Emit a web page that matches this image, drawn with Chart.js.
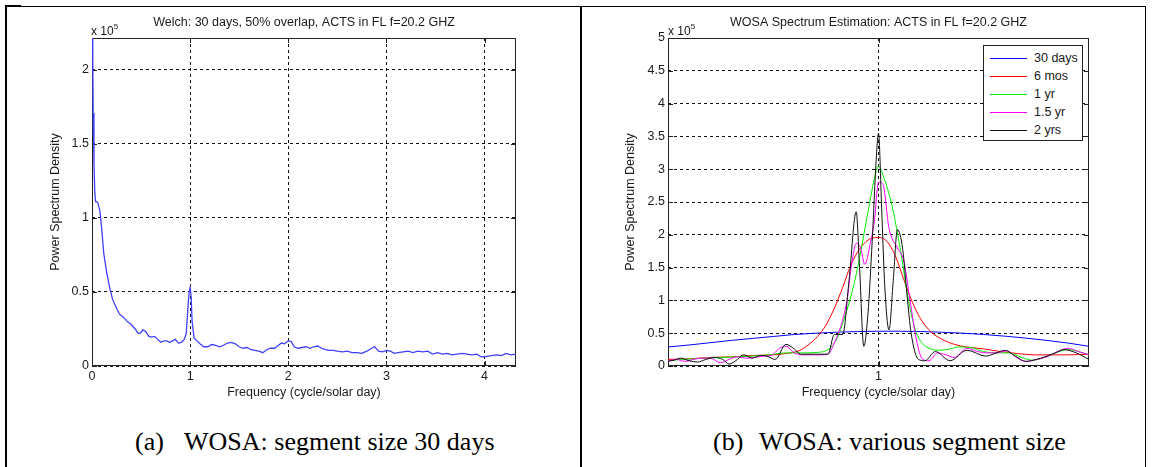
<!DOCTYPE html>
<html>
<head>
<meta charset="utf-8">
<script src="https://cdn.jsdelivr.net/npm/chart.js@4.4.1/dist/chart.umd.min.js"></script>
<style>
  html, body { margin: 0; padding: 0; background: #fff; }
  body { width: 1152px; height: 467px; position: relative; overflow: hidden;
         font-family: "Liberation Sans", Arial, sans-serif; color: #1a1a1a; }
  canvas { position: absolute; top: 0; }
  .rule { position: absolute; background: #000; z-index: 3; }
  .mult { position: absolute; top: 20px; font-size: 12px; line-height: 14px; }
  .mult sup { font-size: 8px; vertical-align: 6px; }
  .cap { position: absolute; top: 429px; font-family: "Liberation Serif", "Times New Roman", serif;
         font-size: 26px; line-height: 26px; white-space: nowrap; color: #000; }
  #legend { position: absolute; left: 983px; top: 45px; width: 100px; height: 96px;
            border: 1px solid #222; background: #fff; box-sizing: border-box; font-size: 12.5px; z-index: 2; }
  #legend div { position: absolute; left: 0; height: 18px; line-height: 18px; }
  #legend i { position: absolute; left: 6px; top: 9px; width: 37px; height: 1px; }
  #legend span { position: absolute; left: 50px; top: 0; white-space: nowrap; }
</style>
</head>
<body>
<div class="rule" style="left:6px; top:6px; width:1140px; height:1px;"></div>
<div class="rule" style="left:5px; top:5px; width:16px; height:2px;"></div>
<div class="rule" style="left:5px; top:6px; width:2px; height:461px;"></div>
<div class="rule" style="left:580px; top:6px; width:2px; height:461px;"></div>
<div class="rule" style="left:1145px; top:6px; width:1px; height:461px;"></div>

<canvas id="welch" width="582" height="410" style="left:0"></canvas>
<canvas id="wosa" width="570" height="410" style="left:582px"></canvas>

<div class="mult" style="left:91px">x 10<sup>5</sup></div>
<div class="mult" style="left:668px">x 10<sup>5</sup></div>
<div id="legend"></div>

<div class="cap" style="left:135px">(a)</div>
<div class="cap" style="left:184px">WOSA: segment size 30 days</div>
<div class="cap" style="left:713px">(b)</div>
<div class="cap" style="left:759px">WOSA: various segment size</div>

<script>
// ---- panel (a): Welch, 30 day segments (values in units of 1e5) ----
const freq30 = [0, 0.008, 0.012, 0.02, 0.028, 0.036, 0.05, 0.06, 0.08, 0.1, 0.12, 0.15, 0.18, 0.21, 0.25,
  0.28, 0.32, 0.36, 0.40, 0.44, 0.47, 0.49, 0.52, 0.55, 0.58, 0.61, 0.64, 0.67, 0.70, 0.73, 0.76, 0.79,
  0.82, 0.85, 0.88, 0.91, 0.94, 0.96, 0.98, 0.99, 1.0, 1.01, 1.02, 1.04, 1.07, 1.10, 1.14, 1.18, 1.22,
  1.26, 1.30, 1.34, 1.38, 1.42, 1.46, 1.50, 1.54, 1.58, 1.62, 1.66, 1.70, 1.74, 1.78, 1.82, 1.86, 1.90,
  1.93, 1.96, 2.0, 2.03, 2.06, 2.10, 2.14, 2.18, 2.22, 2.26, 2.30, 2.34, 2.38, 2.42, 2.46, 2.50, 2.55,
  2.60, 2.65, 2.70, 2.75, 2.80, 2.85, 2.88, 2.92, 2.96, 3.0, 3.04, 3.08, 3.12, 3.17, 3.22, 3.27, 3.32,
  3.37, 3.42, 3.47, 3.52, 3.57, 3.62, 3.67, 3.72, 3.77, 3.82, 3.87, 3.92, 3.97, 4.02, 4.07, 4.12, 4.17,
  4.22, 4.27, 4.32];
const psd30 = [2.6, 2.06, 1.71, 1.37, 1.18, 1.11, 1.11, 1.10, 1.05, 0.92, 0.76, 0.63, 0.53, 0.45, 0.39,
  0.35, 0.33, 0.30, 0.28, 0.25, 0.22, 0.22, 0.245, 0.23, 0.20, 0.195, 0.20, 0.18, 0.16, 0.17, 0.17, 0.16,
  0.17, 0.18, 0.155, 0.16, 0.18, 0.22, 0.42, 0.50, 0.53, 0.47, 0.30, 0.19, 0.17, 0.15, 0.13, 0.13, 0.145,
  0.14, 0.13, 0.14, 0.155, 0.16, 0.15, 0.13, 0.12, 0.125, 0.11, 0.105, 0.10, 0.09, 0.11, 0.12, 0.12, 0.14,
  0.155, 0.15, 0.17, 0.165, 0.13, 0.12, 0.125, 0.13, 0.12, 0.13, 0.135, 0.12, 0.11, 0.105, 0.105, 0.10, 0.095,
  0.10, 0.09, 0.09, 0.085, 0.10, 0.12, 0.13, 0.10, 0.095, 0.105, 0.10, 0.085, 0.09, 0.095, 0.10, 0.09, 0.10,
  0.095, 0.10, 0.08, 0.09, 0.08, 0.085, 0.075, 0.08, 0.085, 0.08, 0.075, 0.08, 0.06, 0.065, 0.07, 0.075, 0.07,
  0.085, 0.075, 0.08];
const welchXTicks = [0, 1, 2, 3, 4];
const welchYTicks = [0, 0.5, 1, 1.5, 2];

// ---- panel (b): WOSA with various segment sizes (values in units of 1e5) ----
const seriesNames = ['30 days', '6 mos', '1 yr', '1.5 yr', '2 yrs'];
const seriesColors = ['#0000ff', '#ff0000', '#00ee00', '#ff00ff', '#111111'];

const f30d = [0, 0.1, 0.2, 0.3, 0.4, 0.5, 0.6, 0.7, 0.8, 0.9, 1.0, 1.1, 1.2, 1.3, 1.4, 1.5, 1.6, 1.7, 1.8, 1.9, 2.0];
const p30d = [0.29, 0.32, 0.355, 0.39, 0.42, 0.45, 0.48, 0.50, 0.515, 0.525, 0.53, 0.53, 0.525, 0.515, 0.50,
  0.48, 0.455, 0.425, 0.39, 0.35, 0.30];

const f6m = [0, 0.1, 0.2, 0.3, 0.4, 0.5, 0.56, 0.62, 0.67, 0.71, 0.75, 0.79, 0.83, 0.87, 0.91, 0.95, 1.0,
  1.04, 1.08, 1.12, 1.16, 1.2, 1.25, 1.3, 1.36, 1.42, 1.5, 1.58, 1.66, 1.74, 1.82, 1.9, 2.0];
const p6m = [0.1, 0.11, 0.13, 0.14, 0.16, 0.17, 0.19, 0.23, 0.33, 0.45, 0.62, 0.88, 1.2, 1.55, 1.78, 1.92, 1.96,
  1.9, 1.68, 1.32, 0.98, 0.72, 0.52, 0.41, 0.33, 0.29, 0.26, 0.22, 0.19, 0.17, 0.17, 0.17, 0.18];

const f1y = [0, 0.06, 0.12, 0.18, 0.25, 0.32, 0.4, 0.48, 0.56, 0.64, 0.72, 0.76, 0.80, 0.84, 0.88, 0.91, 0.95,
  0.98, 1.0, 1.02, 1.06, 1.1, 1.14, 1.17, 1.2, 1.24, 1.29, 1.34, 1.38, 1.44, 1.5, 1.56, 1.62, 1.68, 1.73, 1.78,
  1.84, 1.9, 1.95, 2.0];
const p1y = [0.08, 0.1, 0.11, 0.12, 0.13, 0.14, 0.15, 0.17, 0.2, 0.2, 0.21, 0.25, 0.4, 0.75, 1.2, 1.65, 2.35,
  2.85, 3.05, 2.92, 2.5, 1.85, 1.05, 0.6, 0.38, 0.27, 0.24, 0.26, 0.29, 0.28, 0.22, 0.2, 0.2, 0.13, 0.09, 0.12,
  0.2, 0.25, 0.22, 0.17];

const f15y = [0, 0.04, 0.08, 0.12, 0.16, 0.2, 0.25, 0.29, 0.33, 0.37, 0.41, 0.45, 0.49, 0.53, 0.56, 0.6, 0.64,
  0.68, 0.72, 0.76, 0.79, 0.82, 0.85, 0.87, 0.895, 0.915, 0.935, 0.96, 0.98, 1.0, 1.02, 1.05, 1.09, 1.12, 1.15,
  1.18, 1.21, 1.24, 1.28, 1.32, 1.36, 1.42, 1.47, 1.52, 1.56, 1.61, 1.66, 1.7, 1.75, 1.8, 1.85, 1.9, 1.95, 2.0];
const p15y = [0.08, 0.1, 0.07, 0.1, 0.12, 0.12, 0.05, 0.1, 0.14, 0.12, 0.13, 0.15, 0.16, 0.27, 0.3, 0.2, 0.17,
  0.17, 0.17, 0.18, 0.35, 0.6, 1.0, 1.5, 1.87, 1.8, 1.55, 1.85, 2.2, 2.8, 2.78, 2.1, 1.8, 1.6, 1.0, 0.4, 0.1,
  0.08, 0.2, 0.17, 0.13, 0.27, 0.22, 0.2, 0.2, 0.23, 0.12, 0.07, 0.1, 0.14, 0.22, 0.27, 0.22, 0.17];

const f2y = [0, 0.03, 0.06, 0.1, 0.14, 0.18, 0.22, 0.26, 0.29, 0.33, 0.36, 0.4, 0.44, 0.47, 0.51, 0.56, 0.6,
  0.63, 0.7, 0.76, 0.79, 0.81, 0.83, 0.86, 0.894, 0.91, 0.93, 0.95, 0.97, 0.99, 1.0, 1.015, 1.03, 1.05, 1.07,
  1.09, 1.115, 1.135, 1.155, 1.19, 1.22, 1.27, 1.34, 1.42, 1.51, 1.56, 1.6, 1.65, 1.7, 1.75, 1.79, 1.84, 1.88,
  1.94, 2.0];
const p2y = [0.07, 0.09, 0.12, 0.08, 0.06, 0.1, 0.13, 0.1, 0.03, 0.1, 0.17, 0.12, 0.16, 0.15, 0.1, 0.33, 0.26,
  0.18, 0.18, 0.18, 0.48, 0.48, 0.48, 1.3, 2.35, 1.5, 0.3, 0.8, 1.9, 3.2, 3.55, 2.4, 1.2, 0.55, 1.3, 2.08, 1.78,
  1.1, 0.5, 0.1, 0.08, 0.22, 0.08, 0.24, 0.15, 0.2, 0.24, 0.15, 0.07, 0.1, 0.14, 0.2, 0.25, 0.2, 0.1];

const wosaFreqs = [f30d, f6m, f1y, f15y, f2y];
const wosaVals = [p30d, p6m, p1y, p15y, p2y];
const wosaXTicks = [1];
const wosaYTicks = [0, 0.5, 1, 1.5, 2, 2.5, 3, 3.5, 4, 4.5, 5];

const FONT = { family: "'Liberation Sans', Arial, sans-serif", size: 12.5, weight: 'normal' };
const INK = '#1a1a1a';

// MATLAB style frame with inward tick marks on all four sides (drawn under the curves)
const matlabBox = {
  id: 'matlabBox',
  beforeDatasetsDraw(chart) {
    const { ctx, chartArea: a, scales: { x, y } } = chart;
    const len = 5;
    ctx.save();
    ctx.strokeStyle = '#222';
    ctx.lineWidth = 1;
    ctx.beginPath();
    x.ticks.forEach(t => {
      const px = Math.round(x.getPixelForValue(t.value)) + 0.5;
      ctx.moveTo(px, a.bottom); ctx.lineTo(px, a.bottom - len);
      ctx.moveTo(px, a.top); ctx.lineTo(px, a.top + len);
    });
    y.ticks.forEach(t => {
      const py = Math.round(y.getPixelForValue(t.value)) + 0.5;
      ctx.moveTo(a.left, py); ctx.lineTo(a.left + len, py);
      ctx.moveTo(a.right, py); ctx.lineTo(a.right - len, py);
    });
    ctx.stroke();
    ctx.strokeRect(a.left + 0.5, a.top + 0.5, a.right - a.left - 1, a.bottom - a.top - 1);
    ctx.restore();
  }
};

function axisOptions(ticks, min, max, fitSize, isX, titleText, titlePad) {
  return {
    type: 'linear',
    min: min,
    max: max,
    afterBuildTicks: s => { s.ticks = ticks.map(v => ({ value: v })); },
    afterFit: s => { if (isX) s.height = fitSize; else s.width = fitSize; },
    grid: { color: '#111', lineWidth: 1, drawTicks: false },
    border: { display: false, dash: [3, 3] },
    ticks: { padding: 3, font: FONT, color: INK, maxRotation: 0, autoSkip: false,
              callback: v => String(v) },
    title: { display: true, text: titleText, font: FONT, color: INK, padding: titlePad }
  };
}

function baseOptions(titleText, padRight, xAxis, yAxis) {
  return {
    responsive: false,
    animation: false,
    layout: { padding: { left: 0, right: padRight, top: 0, bottom: 0 } },
    plugins: {
      legend: { display: false },
      tooltip: { enabled: false },
      title: { display: true, text: titleText, fullSize: false, font: FONT, color: INK,
               padding: { top: 15.5, bottom: 7.5 } }
    },
    scales: { x: xAxis, y: yAxis }
  };
}

function initCharts() {
  new Chart(document.getElementById('welch'), {
    type: 'line',
    data: {
      datasets: [{
        data: freq30.map((f, i) => ({ x: f, y: psd30[i] })),
        borderColor: 'rgb(64,64,255)',
        borderWidth: 1.3,
        pointRadius: 0,
        tension: 0
      }]
    },
    options: baseOptions('Welch: 30 days, 50% overlap, ACTS in FL f=20.2 GHZ', 66,
      axisOptions(welchXTicks, 0, 4.32, 44, true, 'Frequency (cycle/solar day)', { top: 0, bottom: 9.5 }),
      axisOptions(welchYTicks, 0, 2.216, 92, false, 'Power Spectrum Density', { top: 48.5, bottom: 0 })),
    plugins: [matlabBox]
  });

  new Chart(document.getElementById('wosa'), {
    type: 'line',
    data: {
      datasets: seriesNames.map((name, k) => ({
        label: name,
        data: wosaFreqs[k].map((f, i) => ({ x: f, y: wosaVals[k][i] })),
        borderColor: seriesColors[k],
        borderWidth: 1,
        pointRadius: 0,
        cubicInterpolationMode: 'monotone',
        order: seriesNames.length - 1 - k
      }))
    },
    options: baseOptions('WOSA Spectrum Estimation: ACTS in FL f=20.2 GHZ', 63,
      axisOptions(wosaXTicks, 0, 2, 44, true, 'Frequency (cycle/solar day)', { top: 0, bottom: 9.5 }),
      axisOptions(wosaYTicks, 0, 5, 86, false, 'Power Spectrum Density', { top: 41.5, bottom: 0 })),
    plugins: [matlabBox]
  });

  // legend box for panel (b)
  const legend = document.getElementById('legend');
  seriesNames.forEach((name, k) => {
    const row = document.createElement('div');
    row.style.top = (3 + k * 18) + 'px';
    row.style.width = '100%';
    row.innerHTML = '<i style="background:' + seriesColors[k] + '"></i><span>' + name + '</span>';
    legend.appendChild(row);
  });
}

document.addEventListener('DOMContentLoaded', initCharts);
</script>
</body>
</html>
